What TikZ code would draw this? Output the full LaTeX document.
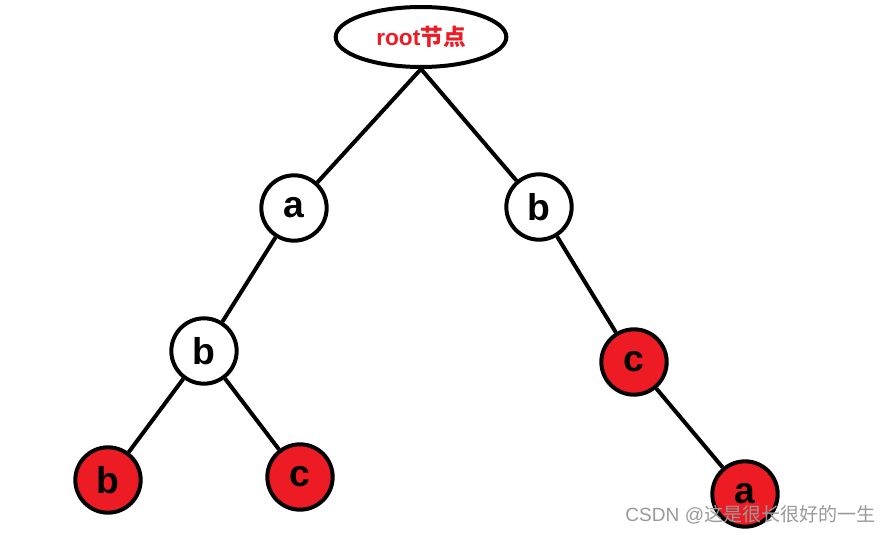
\documentclass[tikz,border=0pt]{standalone}
\usepackage{fontspec}
\setmainfont{Liberation Sans}
\newfontfamily\cjk{Noto Sans CJK SC}
\usetikzlibrary{shapes.geometric}
\definecolor{paintred}{HTML}{ED1C24}
\definecolor{wmgray}{HTML}{9A9A9A}
\tikzset{
  treenode/.style={circle, draw=black, line width=3pt, minimum size=49pt, inner sep=0pt, font=\fontsize{28}{28}\selectfont\bfseries},
  plain/.style={treenode, fill=white},
  hot/.style={treenode, fill=paintred},
  edge/.style={line width=3pt, black},
}
\begin{document}
\begin{tikzpicture}[x=0.75pt, y=-0.75pt]
\useasboundingbox[fill=white] (0,0) rectangle (892,535);
\node[ellipse, draw=black, line width=3pt, minimum width=128pt, minimum height=45pt, inner sep=0pt,
      text=paintred, font=\fontsize{17}{17}\selectfont\bfseries] (root) at (421,37) {root\cjk{节点}};
\node[plain] (a1) at (294,208) {a};
\node[plain] (b1) at (539,207) {b};
\node[plain] (b2) at (204,351) {b};
\node[hot] (c1) at (634,362) {c};
\node[hot] (b3) at (108,480) {b};
\node[hot] (c2) at (300,477) {c};
\node[hot] (a2) at (745,494) {a};
\draw[edge] (root.south) -- (a1);
\draw[edge] (root.south) -- (b1);
\draw[edge] (a1) -- (b2);
\draw[edge] (b2) -- (b3);
\draw[edge] (b2) -- (c2);
\draw[edge] (b1) -- (c1);
\draw[edge] (c1) -- (a2);
\node[anchor=east, text=wmgray, inner sep=0pt, font=\fontsize{14.3}{14.3}\selectfont] (wm) at (876,515) {CSDN @\cjk{这是很长很好的一生}};
\end{tikzpicture}
\end{document}
